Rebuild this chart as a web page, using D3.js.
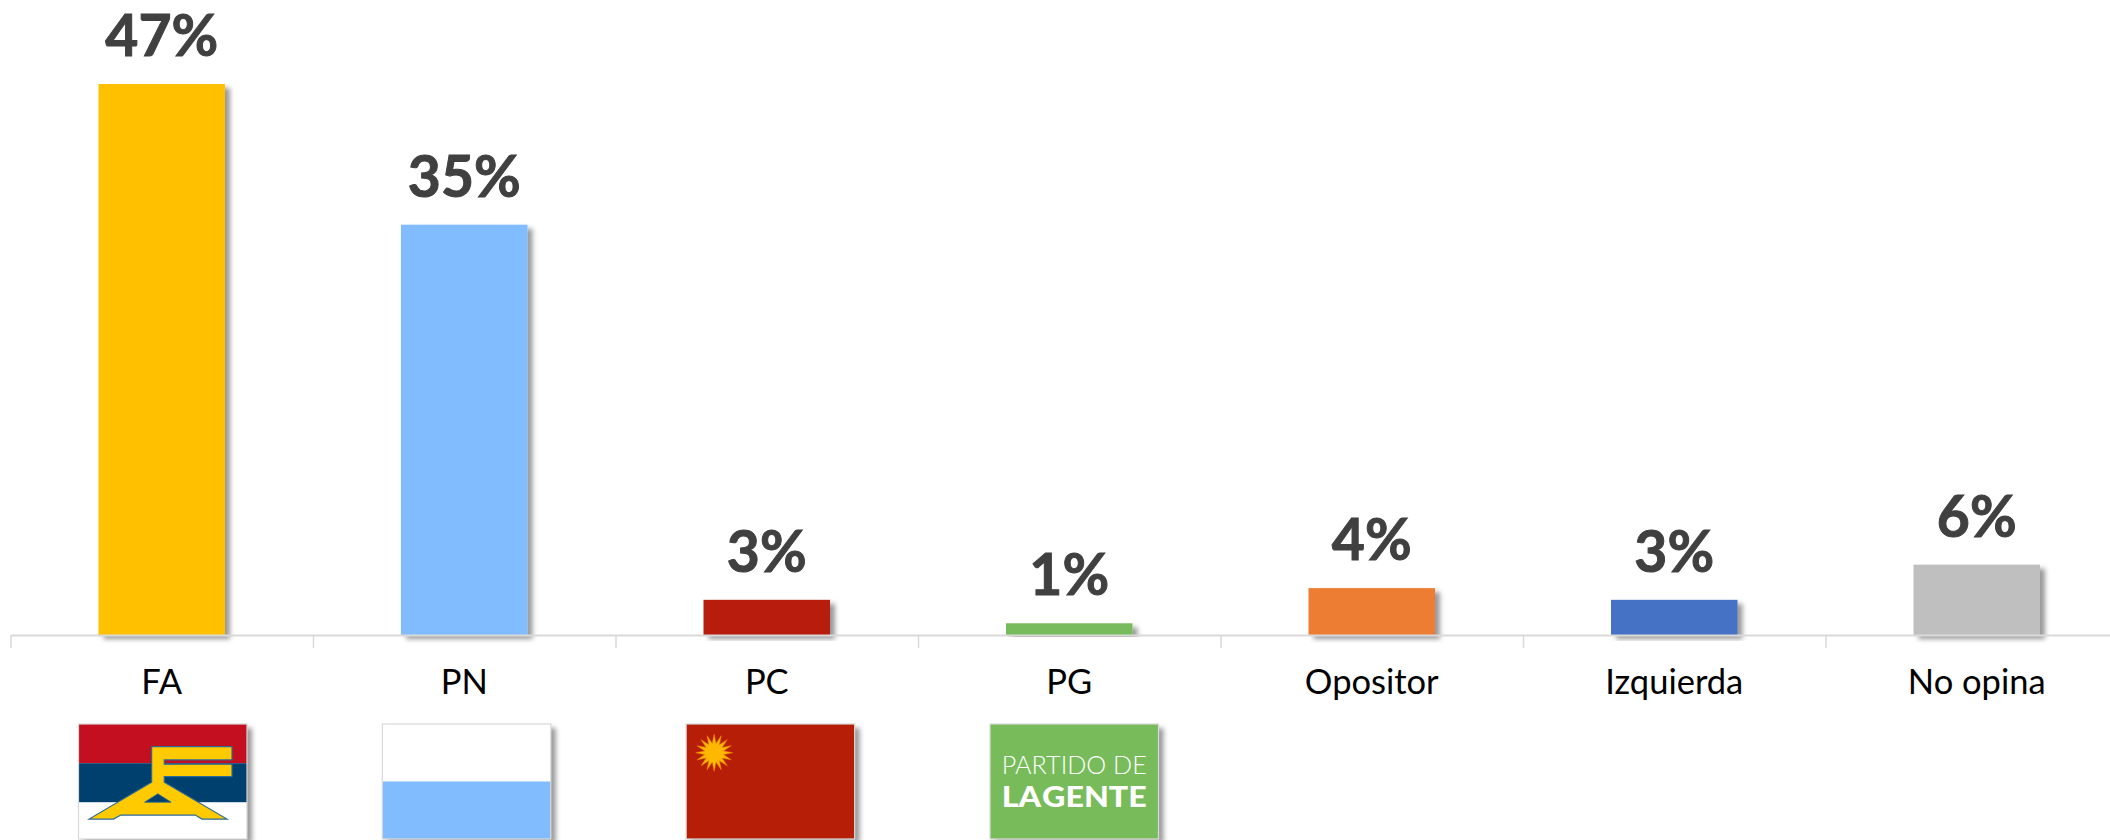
<!DOCTYPE html>
<html>
<head>
<meta charset="utf-8">
<script src="https://cdn.jsdelivr.net/npm/d3@7"></script>
<style>
  html, body { margin: 0; padding: 0; background: #fff; overflow: hidden; }
  svg { display: block; font-family: Lato, "Open Sans", sans-serif; }
</style>
</head>
<body>
<svg id="chart" width="2110" height="840"></svg>
<script>
// Data
const categories = ["FA", "PN", "PC", "PG", "Opositor", "Izquierda", "No opina"];
const values = [47, 35, 3, 1, 4, 3, 6];
const barColors = ["#FFC000", "#80BCFF", "#B71E08", "#78BB5B", "#ED7D31", "#4472C4", "#BFBFBF"];
const flagParties = ["FA", "PN", "PC", "PG"];

const svg = d3.select("#chart");
const baseY = 635, axisLeft = 10.5, axisRight = 2128;

const x = d3.scaleBand().domain(categories).range([axisLeft, axisRight]).paddingInner(0).paddingOuter(0);
const barWidth = 126.5;
const y = d3.scaleLinear().domain([0, 47]).range([baseY, 84]);

// Shadow used by the bars and the flags
const defs = svg.append("defs");
const shadow = defs.append("filter").attr("id", "shadow")
  .attr("x", "-10%").attr("y", "-10%").attr("width", "125%").attr("height", "125%");
shadow.append("feDropShadow")
  .attr("dx", 5).attr("dy", 4).attr("stdDeviation", 2.5)
  .attr("flood-color", "#000").attr("flood-opacity", 0.4);

// Bars
const barLayer = svg.append("g");
barLayer.selectAll("rect")
  .data(categories)
  .enter().append("rect")
  .attr("x", d => x(d) + (x.bandwidth() - barWidth) / 2)
  .attr("y", (d, i) => y(values[i]))
  .attr("width", barWidth)
  .attr("height", (d, i) => baseY - y(values[i]))
  .attr("fill", (d, i) => barColors[i])
  .attr("filter", "url(#shadow)");

// Axis: ticks sit on the band edges, labels in the band centres
const edgeScale = d3.scaleLinear().domain([0, categories.length]).range([axisLeft, axisRight]);
const tickAxis = svg.append("g")
  .attr("transform", `translate(0,${baseY})`)
  .call(d3.axisBottom(edgeScale).ticks(categories.length).tickSize(13).tickSizeOuter(0).tickFormat(""));
tickAxis.selectAll("line").attr("stroke", "#D9D9D9").attr("stroke-width", 1.5);
tickAxis.select(".domain").attr("stroke", "#D9D9D9").attr("stroke-width", 2);

const labelAxis = svg.append("g")
  .attr("transform", `translate(0,${baseY})`)
  .call(d3.axisBottom(x).tickSize(0).tickPadding(35));
labelAxis.select(".domain").remove();
labelAxis.selectAll("text")
  .attr("font-family", "Lato, sans-serif")
  .attr("font-size", 34.5)
  .attr("fill", "#000");

// Value labels
svg.append("g").selectAll("text")
  .data(categories)
  .enter().append("text")
  .attr("x", d => x(d) + x.bandwidth() / 2)
  .attr("y", (d, i) => y(values[i]) - 28)
  .attr("text-anchor", "middle")
  .attr("font-size", 57)
  .attr("font-weight", 700)
  .attr("fill", "#404040")
  .attr("stroke", "#404040")
  .attr("stroke-width", 1)
  .text((d, i) => values[i] + "%");

// Party flags under the first four categories
const flagX = d3.scaleLinear().domain([0, 3]).range([78.5, 990]);
const flagW = 168.5, flagH = 115, flagY = 724;
const fx = d3.scaleLinear().domain([0, 1]).range([0, flagW]);
const fy = d3.scaleLinear().domain([0, 1]).range([0, flagH]);

const flags = svg.append("g").selectAll("g")
  .data(flagParties)
  .enter().append("g")
  .attr("transform", (d, i) => `translate(${flagX(i)},${flagY})`);

flags.append("rect")
  .attr("width", flagW).attr("height", flagH)
  .attr("fill", "#fff")
  .attr("filter", "url(#shadow)");

function band(g, from, to, color) {
  g.append("rect")
    .attr("x", 0).attr("y", fy(from))
    .attr("width", flagW).attr("height", fy(to) - fy(from))
    .attr("fill", color);
}

// FA: red, blue, white with the yellow logo
const fa = flags.filter(d => d === "FA");
band(fa, 0, 0.341, "#C40F20");
band(fa, 0.341, 0.68, "#00406E");
const logoOutline = [[.434, .197], [.911, .197], [.911, .312], [.509, .312], [.509, .35], [.911, .35], [.911, .457], [.509, .457], [.509, .506],
  [.881, .827], [.733, .827], [.693, .792], [.251, .792], [.208, .827], [.063, .827], [.434, .506]];
const logoHole = [[.471, .607], [.55, .68], [.392, .68]];
const logoLine = d3.line().x(d => fx(d[0])).y(d => fy(d[1])).curve(d3.curveLinearClosed);
fa.append("path").attr("d", logoLine(logoOutline)).attr("fill", "#FFCB00").attr("stroke", "#2B6A96").attr("stroke-width", 1.2);
fa.append("path").attr("d", logoLine(logoHole)).attr("fill", "#00406E").attr("stroke", "#2B6A96").attr("stroke-width", 0.8);

// PN: white over light blue
band(flags.filter(d => d === "PN"), 0.5, 1, "#80BCFF");

// PC: red with a sun in the corner
const pc = flags.filter(d => d === "PC");
band(pc, 0, 1, "#B71E08");
const sunPoints = d3.range(32).map(i => [i / 32 * 2 * Math.PI, i % 2 ? 9.5 : 18.5]);
pc.append("path")
  .attr("transform", `translate(${fx(0.166)},${fy(0.25)})`)
  .attr("d", d3.lineRadial().curve(d3.curveLinearClosed)(sunPoints))
  .attr("fill", "#FFB800").attr("stroke", "#F08A00").attr("stroke-width", 0.5);

// PG: green with the party name, stretched to the same width
const pg = flags.filter(d => d === "PG");
band(pg, 0, 1, "#78BB5B");
pg.append("text")
  .attr("x", fx(0.5)).attr("y", fy(0.435))
  .attr("text-anchor", "middle")
  .attr("font-size", 25).attr("font-weight", 300)
  .attr("fill", "#fff")
  .attr("textLength", 145).attr("lengthAdjust", "spacingAndGlyphs")
  .text("PARTIDO DE");
pg.append("text")
  .attr("x", fx(0.5)).attr("y", fy(0.726))
  .attr("text-anchor", "middle")
  .attr("font-size", 28.5).attr("font-weight", 900)
  .attr("word-spacing", -5)
  .attr("fill", "#fff")
  .attr("textLength", 145).attr("lengthAdjust", "spacingAndGlyphs")
  .text("LA GENTE");

// Thin border on top of each flag
flags.append("rect")
  .attr("width", flagW).attr("height", flagH)
  .attr("fill", "none")
  .attr("stroke", "#D9D9D9").attr("stroke-width", 1.2);
</script>
</body>
</html>
